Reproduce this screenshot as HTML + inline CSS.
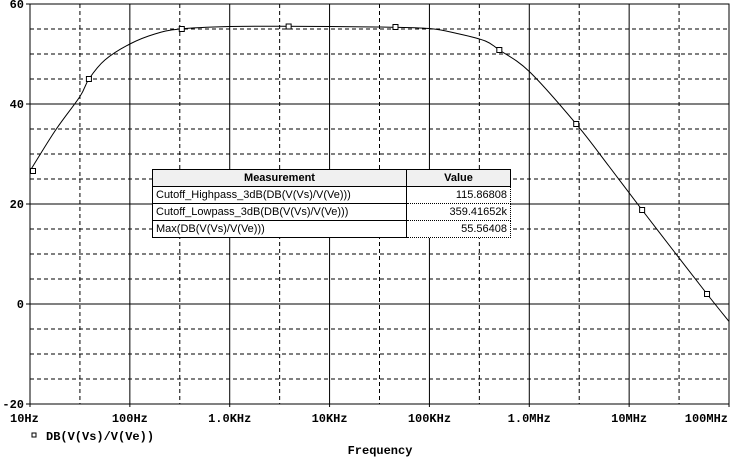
<!DOCTYPE html>
<html><head><meta charset="utf-8"><style>
body{margin:0;background:#fff;width:730px;height:457px;overflow:hidden}
svg text{font-family:"Liberation Mono",monospace;font-weight:bold;font-size:12px;fill:#000}
.tbl{position:absolute;left:152px;top:169px;border-collapse:collapse;font-family:"Liberation Sans",sans-serif;font-size:11px;background:#fff}
.tbl td{border:1px solid #000;height:16px;padding:0 3px;white-space:nowrap}
.tbl tr.h td{background:#f0f0f0;font-weight:bold;text-align:center}
</style></head><body>
<svg id="chart" width="730" height="457" style="position:absolute;left:0;top:0"></svg>
<table class="tbl">
<tr class="h"><td style="width:247px">Measurement</td><td style="width:97px">Value</td></tr>
<tr><td>Cutoff_Highpass_3dB(DB(V(Vs)/V(Ve)))</td><td style="text-align:right;border-style:dotted">115.86808</td></tr>
<tr><td>Cutoff_Lowpass_3dB(DB(V(Vs)/V(Ve)))</td><td style="text-align:right;border-style:dotted">359.41652k</td></tr>
<tr><td>Max(DB(V(Vs)/V(Ve)))</td><td style="text-align:right;border-style:dotted">55.56408</td></tr>
</table>
<script>
const xTickLabels=["10Hz","100Hz","1.0KHz","10KHz","100KHz","1.0MHz","10MHz","100MHz"];
const yTickValues=[-20,0,20,40,60];
const curveLogF=[1.0,1.25,1.5,1.59,1.75,2.0,2.25,2.5,3.0,3.5,4.0,4.5,5.0,5.3,5.56,5.7,6.0,6.47,6.8,7.13,7.45,7.78,8.0];
const curveDb=[26.6,34.6,41.5,45.0,48.8,52.0,54.0,55.0,55.5,55.55,55.5,55.4,55.1,54.0,52.6,50.8,46.5,36.0,27.5,18.8,10.5,2.0,-3.5];
const markerLogF=[1.03,1.59,2.52,3.59,4.66,5.7,6.47,7.13,7.78];
const markerDb=[26.6,45.0,55.0,55.5,55.4,50.8,36.0,18.8,2.0];
const L=30,R=729,T=4,B=404;
const X=l=>L+(l-1)*(R-L)/7, Y=d=>T+(60-d)*(B-T)/80;
const s=document.getElementById('chart'),NS="http://www.w3.org/2000/svg";
function mk(t,a){const e=document.createElementNS(NS,t);for(const k in a)e.setAttribute(k,a[k]);s.appendChild(e);return e;}
for(let d=-15;d<60;d+=5){if(d%20===0)continue;
const g=mk('line',{x1:L,x2:R,y1:Y(d),y2:Y(d),stroke:'#000','stroke-dasharray':'4,3'});

}
for(let i=0;i<7;i++){const g=mk('line',{x1:X(1.5+i),x2:X(1.5+i),y1:T,y2:B,stroke:'#000','stroke-dasharray':'4,3'});

}
yTickValues.forEach(v=>{const g=mk('line',{x1:L-4,x2:R,y1:Y(v),y2:Y(v),stroke:'#000'});


const t=mk('text',{x:L-6,y:Y(v)+4,'text-anchor':'end'});t.textContent=v;

});
xTickLabels.forEach((lb,i)=>{const x=X(1+i);const g=mk('line',{x1:x,x2:x,y1:T,y2:B+3,stroke:'#000'});


let anc=i===0?'start':(i===7?'end':'middle');let tx=i===0?x-20:(i===7?728:x);
const t=mk('text',{x:tx,y:B+18,'text-anchor':anc});t.textContent=lb;

});
const fr=mk('rect',{x:L,y:T,width:R-L,height:B-T,fill:'none',stroke:'#000'});


// catmull-rom
const P=curveLogF.map((l,i)=>[X(l),Y(curveDb[i])]);
let d='M'+P[0][0]+','+P[0][1];
for(let i=0;i<P.length-1;i++){const p0=P[Math.max(i-1,0)],p1=P[i],p2=P[i+1],p3=P[Math.min(i+2,P.length-1)];
d+=` C${p1[0]+(p2[0]-p0[0])/6},${p1[1]+(p2[1]-p0[1])/6} ${p2[0]-(p3[0]-p1[0])/6},${p2[1]-(p3[1]-p1[1])/6} ${p2[0]},${p2[1]}`;}
const c=mk('path',{d:d,fill:'none',stroke:'#000','stroke-width':1});


markerLogF.forEach((l,i)=>{const m=mk('rect',{x:X(l)-2.5,y:Y(markerDb[i])-2.5,width:5,height:5,fill:'#fff',stroke:'#000'});

});
const lm=mk('rect',{x:32,y:433,width:4,height:4,fill:'#fff',stroke:'#000'});


const lt=mk('text',{x:46,y:440});lt.textContent='DB(V(Vs)/V(Ve))';


const xt=mk('text',{x:380,y:454,'text-anchor':'middle'});xt.textContent='Frequency';


</script>
</body></html>
